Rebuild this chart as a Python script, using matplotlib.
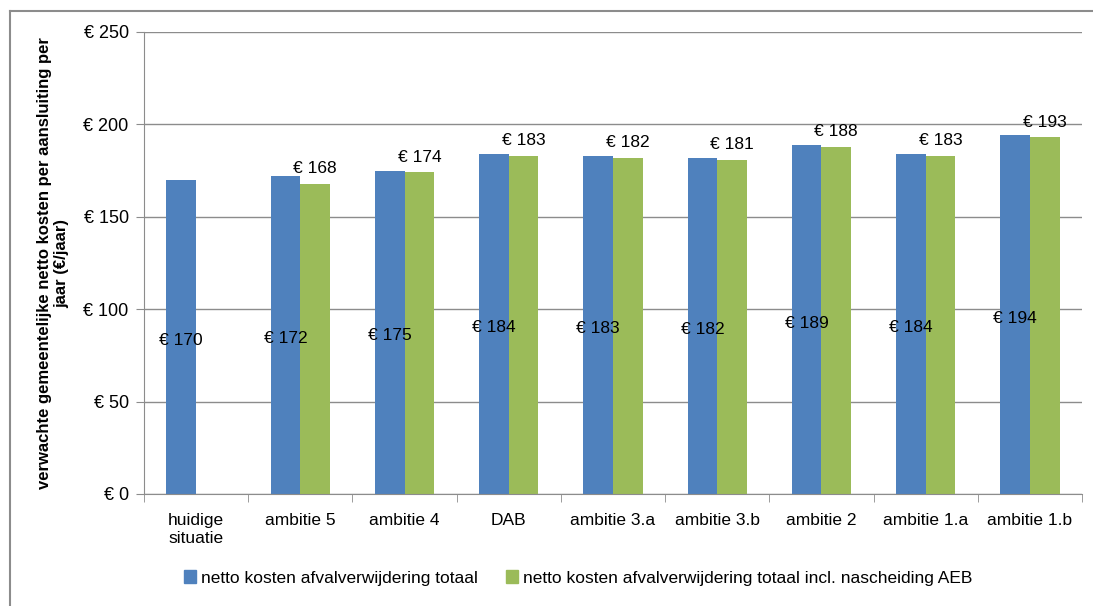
import matplotlib.pyplot as plt
import numpy as np
from matplotlib.lines import Line2D
from matplotlib.patches import Patch

plt.rcParams['font.family'] = ['Liberation Sans', 'DejaVu Sans']

categories = ['huidige\nsituatie', 'ambitie 5', 'ambitie 4', 'DAB', 'ambitie 3.a',
              'ambitie 3.b', 'ambitie 2', 'ambitie 1.a', 'ambitie 1.b']
totaal = [170, 172, 175, 184, 183, 182, 189, 184, 194]
incl_aeb = [np.nan, 168, 174, 183, 182, 181, 188, 183, 193]

blue = '#4F81BD'
green = '#9BBB59'
grid_c = '#8C8C8C'

fig = plt.figure(figsize=(10.93, 6.06), dpi=100)
ax = fig.add_axes([144/1093, 1 - 494/606, (1082 - 144)/1093, (494 - 32)/606])

x = np.arange(len(categories))
w = 0.285
ax.bar(x - w/2, totaal, w, color=blue)
ax.bar(x + w/2, incl_aeb, w, color=green)

for xi, v in zip(x, totaal):
    ax.text(xi - w/2, v/2 - 2, f'€ {v}', ha='center', va='center', fontsize=12.5)
for xi, v in zip(x, incl_aeb):
    if not np.isnan(v):
        ax.text(xi + w/2, v + 4, f'€ {v}', ha='center', va='bottom', fontsize=12.5)

ax.set_xlim(-0.5, len(categories) - 0.5)
ax.set_ylim(0, 250)
ax.set_yticks(np.arange(0, 251, 50))
ax.set_yticklabels([f'€ {t}' for t in range(0, 251, 50)], fontsize=13)
ax.set_xticks(x)
ax.set_xticklabels(categories, fontsize=12.5)
ax.set_xticks(np.arange(-0.5, len(categories)), minor=True)
ax.tick_params(axis='x', which='major', length=0, pad=14)
ax.tick_params(axis='x', which='minor', length=6, color=grid_c)
ax.tick_params(axis='y', length=6, color=grid_c, pad=5)
ax.yaxis.grid(True, color=grid_c, lw=1)
ax.set_axisbelow(True)
for s in ['top', 'right']:
    ax.spines[s].set_visible(False)
for s in ['left', 'bottom']:
    ax.spines[s].set_color(grid_c)

ax.set_ylabel('verwachte gemeentelijke netto kosten per aansluiting per\njaar (€/jaar)',
              fontsize=12, fontweight='bold', labelpad=10)

fig.legend(handles=[Patch(color=blue), Patch(color=green)],
           labels=['netto kosten afvalverwijdering totaal',
                   'netto kosten afvalverwijdering totaal incl. nascheiding AEB'],
           loc='center left', bbox_to_anchor=(168/1093, 1 - 578/606), ncol=2,
           frameon=False, fontsize=12.5, handlelength=0.7, handleheight=0.7,
           handletextpad=0.3, columnspacing=1.6)

fig.add_artist(Line2D([10/1093, 1], [1 - 11/606, 1 - 11/606], color=grid_c, lw=1.5))
fig.add_artist(Line2D([10/1093, 10/1093], [0, 1 - 11/606], color=grid_c, lw=1.5))

fig.savefig('out.png', dpi=100)
